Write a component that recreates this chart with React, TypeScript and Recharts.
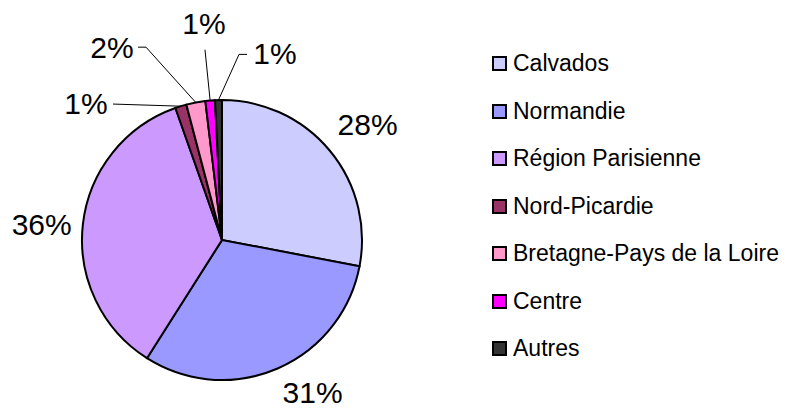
import { PieChart, Pie, Cell, Legend } from "recharts";

const regions = [
  "Calvados",
  "Normandie",
  "Région Parisienne",
  "Nord-Picardie",
  "Bretagne-Pays de la Loire",
  "Centre",
  "Autres",
];
const shares = [28, 31, 35.6, 1.3, 2.2, 1.1, 0.8];
const colors = [
  "#ccccff",
  "#9999ff",
  "#cc99ff",
  "#993366",
  "#ff99cc",
  "#ff00ff",
  "#333333",
];

const data = regions.map((name, i) => ({ name, value: shares[i] }));

const FONT = "'Liberation Sans', Arial, sans-serif";
const RAD = Math.PI / 180;

// where each % label sits: angle shift from slice middle (deg, clockwise),
// distance from centre, and optional leader line offsets from the text
const labelSpots: any[] = [
  { shift: 1.1, r: 186 },
  { shift: -7.4, r: 177 },
  { shift: -1.6, r: 181 },
  { shift: -27.7, r: 193, lead: { gx: 27, gy: 1, el: 0 } },
  { shift: -18.9, r: 222, lead: { gx: 26, gy: 0, el: 8 } },
  { shift: 0.1, r: 217, lead: { gx: 1, gy: 26, el: 0 } },
  { shift: 17.3, r: 194, lead: { gx: -28, gy: 1, el: -8 } },
];

const renderLabel = (props: any) => {
  const { cx, cy, midAngle, outerRadius, percent, index } = props;
  const spot = labelSpots[index];
  const mid = 90 - midAngle;
  const a = (mid + spot.shift) * RAD;
  const tx = cx + spot.r * Math.sin(a);
  const ty = cy - spot.r * Math.cos(a);
  let line = null;
  if (spot.lead) {
    const ex = cx + outerRadius * Math.sin(mid * RAD);
    const ey = cy - outerRadius * Math.cos(mid * RAD);
    const { gx, gy, el } = spot.lead;
    const pts = [
      [ex, ey],
      [tx + gx + el, ty + gy],
      [tx + gx, ty + gy],
    ];
    line = (
      <polyline
        points={pts.map((p) => p.join(",")).join(" ")}
        fill="none"
        stroke="#000"
        strokeWidth={1}
      />
    );
  }
  return (
    <g key={`lbl-${index}`}>
      {line}
      <text
        x={tx}
        y={ty}
        textAnchor="middle"
        dominantBaseline="central"
        fontSize={30}
        fontFamily={FONT}
        fill="#000"
      >
        {`${Math.round(percent * 100)}%`}
      </text>
    </g>
  );
};

const renderLegend = (props: any) => {
  const payload = [...(props.payload || [])].sort(
    (a: any, b: any) => regions.indexOf(a.value) - regions.indexOf(b.value)
  );
  return (
    <div style={{ fontFamily: FONT, fontSize: 23, color: "#000" }}>
      {payload.map((entry: any, i: number) => (
        <div
          key={`leg-${i}`}
          style={{ height: 47.5, display: "flex", alignItems: "center" }}
        >
          <span
            style={{
              display: "inline-block",
              width: 11,
              height: 11,
              border: "2px solid #000",
              background: entry.color,
              marginRight: 6,
            }}
          />
          <span style={{ lineHeight: 1, whiteSpace: "nowrap" }}>
            {entry.value}
          </span>
        </div>
      ))}
    </div>
  );
};

export default function App() {
  return (
    <div style={{ position: "absolute", left: 0, top: 0, background: "#fff" }}>
      <PieChart
        width={789}
        height={409}
        margin={{ top: 0, right: 0, bottom: 0, left: 0 }}
      >
        <Pie
          data={data}
          dataKey="value"
          nameKey="name"
          cx={222}
          cy={240}
          outerRadius={140}
          startAngle={90}
          endAngle={-270}
          stroke="#000"
          strokeWidth={2}
          label={renderLabel}
          labelLine={false}
          isAnimationActive={false}
        >
          {data.map((_entry, index) => (
            <Cell key={`cell-${index}`} fill={colors[index]} />
          ))}
        </Pie>
        <Legend
          layout="vertical"
          content={renderLegend}
          itemSorter={null as any}
          wrapperStyle={{ left: 492, top: 40, width: "auto" }}
        />
      </PieChart>
    </div>
  );
}
